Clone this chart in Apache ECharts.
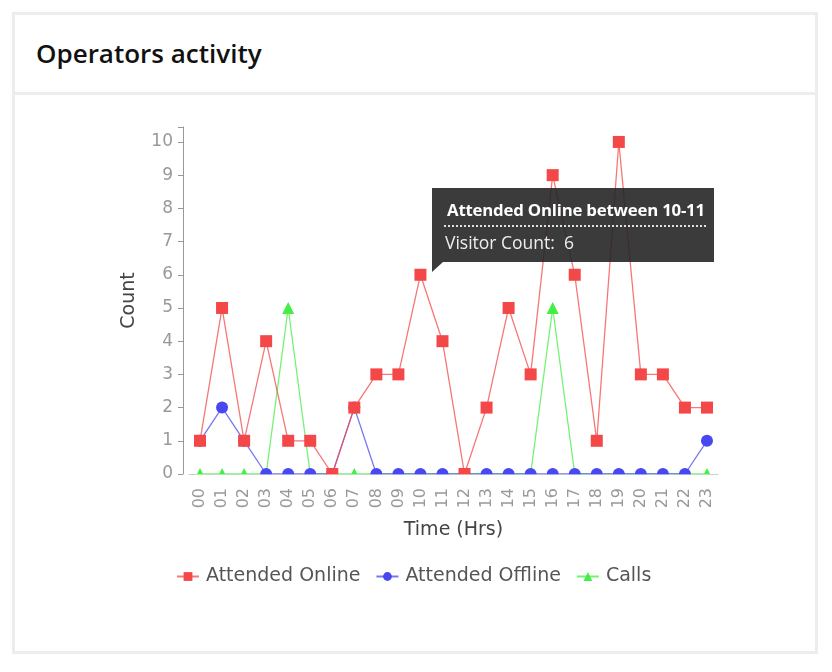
<!DOCTYPE html>
<html>
<head>
<meta charset="utf-8">
<script src="https://cdn.jsdelivr.net/npm/echarts@6/dist/echarts.min.js"></script>
<style>
  html, body { margin:0; padding:0; background:#fff; width:832px; height:672px; overflow:hidden; }
  #card { position:absolute; left:12px; top:12px; width:800px; height:636px; border:3px solid #ededed; }
  #head { position:absolute; left:0; top:0; width:800px; height:77px; border-bottom:3px solid #ededed; }
  #title { position:absolute; left:21px; top:20px; font-family:"Open Sans", sans-serif; font-weight:600; font-size:26px; color:#111; }
  #chart { position:absolute; left:0; top:0; width:832px; height:672px; }
</style>
</head>
<body>
<div id="card"><div id="head"><div id="title">Operators activity</div></div></div>
<div id="chart"></div>
<script>
const hours = ['00','01','02','03','04','05','06','07','08','09','10','11','12','13','14','15','16','17','18','19','20','21','22','23'];
const attendedOnline  = [1,5,1,4,1,1,0,2,3,3,6,4,0,2,5,3,9,6,1,10,3,3,2,2];
const attendedOffline = [1,2,1,0,0,0,0,2,0,0,0,0,0,0,0,0,0,0,0,0,0,0,0,1];
const calls           = [0,0,0,0,5,0,0,0,0,0,0,0,0,0,0,0,5,0,0,0,0,0,0,0];
const yTicks = [0,1,2,3,4,5,6,7,8,9,10];
const seriesNames = ['Attended Online','Attended Offline','Calls'];

const G = { left:189, right:114, top:127, bottom:198 };
const chart = echarts.init(document.getElementById('chart'));
const axisFont = "'DejaVu Sans', sans-serif";

function mk(name, data, color, symbol, size) {
  return {
    name: name, type:'line', data: data, symbol: symbol, symbolSize: size,
    showAllSymbol: true,
    itemStyle: { color: color },
    lineStyle: { color: color, width: 1.3, opacity: 0.75 },
    emphasis: { disabled: true },
    animation: false
  };
}

chart.setOption({
  animation: false,
  grid: { left:G.left, right:G.right, top:G.top, bottom:G.bottom, containLabel:false },
  xAxis: {
    type:'category', data: hours, boundaryGap: true, offset: 8,
    name:'Time (Hrs)', nameLocation:'middle', nameGap: 39,
    nameTextStyle: { fontFamily: axisFont, fontSize: 19, color:'#444' },
    axisLine: { lineStyle: { color:'#999', width:1 } },
    axisTick: { show:false },
    axisLabel: { rotate: 90, interval: 0, margin: 6, fontFamily: axisFont, fontSize: 16, color:'#999' },
    splitLine: { show:false }
  },
  yAxis: {
    type:'value', min: 0, max: 10.45, interval: 1, offset: 6,
    name:'Count', nameLocation:'middle', nameGap: 44,
    nameTextStyle: { fontFamily: axisFont, fontSize: 19, color:'#444' },
    axisLine: { show:true, lineStyle: { color:'#999', width:1 } },
    axisTick: { show:true, length:5, lineStyle:{ color:'#999' } },
    axisLabel: { margin: 10, fontFamily: axisFont, fontSize: 17, color:'#999',
      formatter: function (v) { return yTicks.indexOf(v) >= 0 ? String(v) : ''; } },
    splitLine: { show:false }
  },
  legend: {
    left: 171, top: 562, itemWidth: 22, itemHeight: 11, itemGap: 15,
    data: seriesNames,
    textStyle: { fontFamily: axisFont, fontSize: 19, color:'#555', padding:[0,0,0,2] }
  },
  tooltip: {
    trigger:'item', alwaysShowContent: true, triggerOn: 'none',
    backgroundColor:'transparent', borderWidth:0, padding:0,
    transitionDuration: 0,
    extraCssText:'box-shadow:none;',
    position: function (point) { return [point[0] + 12, point[1] - 87]; },
    formatter: function (p) {
      const i = p.dataIndex;
      const next = hours[(i + 1) % hours.length];
      return '<div style="position:relative;width:282px;height:74px;box-sizing:border-box;background:rgba(38,38,38,0.9);padding:10px 8px 0 12px;font-family:\'Open Sans\',sans-serif;">' +
        '<div style="color:#fff;font-weight:700;font-size:16.8px;line-height:24px;padding-left:3px;letter-spacing:-0.2px;white-space:nowrap;">' + p.seriesName + ' between ' + (+hours[i]) + '-' + (+next) + '</div>' +
        '<div style="border-top:2px dotted rgba(255,255,255,0.85);margin-top:3px;"></div>' +
        '<div style="color:#eee;font-size:17.5px;line-height:22px;margin-top:4px;padding-left:1px;">Visitor Count:&nbsp; ' + p.value + '</div>' +
        '<div style="position:absolute;left:0;top:100%;width:0;height:0;border-top:10px solid rgba(38,38,38,0.9);border-right:11px solid transparent;"></div>' +
        '</div>';
    }
  },
  graphic: [{
    type:'rect', z: 100, silent: true,
    shape: { x: 184, y: 672 - G.bottom + 0.5, width: 832 - G.right - 184 + 4, height: 7 },
    style: { fill:'#fff' }
  }],
  series: [
    mk('Calls', calls, '#44ee44', 'triangle', 12),
    mk('Attended Offline', attendedOffline, '#4848f0', 'circle', 12),
    mk('Attended Online', attendedOnline, '#f44848', 'rect', 12)
  ]
});

function showTip() {
  chart.dispatchAction({ type:'showTip', seriesIndex: 2, dataIndex: 10 });
}
showTip();
setTimeout(showTip, 50);
</script>
</body>
</html>
